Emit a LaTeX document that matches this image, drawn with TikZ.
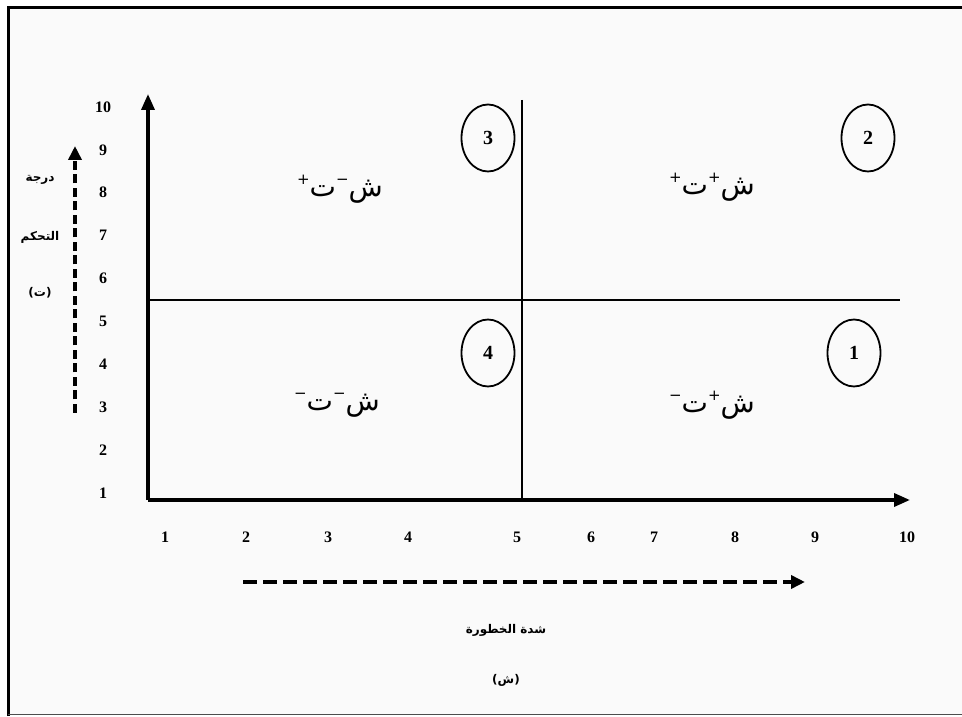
\documentclass[tikz,border=0pt]{standalone}
\usepackage{fontspec}
\usepackage{tikz}
\usetikzlibrary{arrows.meta,shapes.geometric}
\setmainfont{Liberation Serif}
\newfontfamily\arabicfont[Script=Arabic]{DejaVu Sans}
\TeXXeTstate=1
\newcommand\supmark[1]{\raisebox{0.8ex}{\fontsize{15}{15}\selectfont #1}}

\tikzset{
  axis/.style={line width=3.5pt,-{Triangle[length=16pt,width=13pt]}},
  guide/.style={line width=4pt,dash pattern=on 14pt off 6pt,-{Triangle[length=14pt,width=13pt]}},
  zone/.style={ellipse,draw,line width=1.8pt,minimum width=53pt,minimum height=67pt,
    inner sep=0pt,font=\fontsize{20}{20}\selectfont\bfseries},
  tick/.style={font=\fontsize{16}{16}\selectfont\bfseries},
  title/.style={font=\fontsize{12}{14}\selectfont\bfseries\arabicfont},
  quad/.style={font=\fontsize{28}{28}\selectfont\arabicfont}
}

\begin{document}
\begin{tikzpicture}[x=1pt,y=1pt]
      \useasboundingbox (0,0) rectangle (962,716);
      \fill[black!2] (8,2) rectangle (962,708);

      %Cadre
      \draw[line width=3pt] (8,0) -- (8,708) -- (962,708);
      \draw[black!70,line width=1pt] (8,1.5) -- (962,1.5);

      %Axes
      \coordinate (O) at (148,216);
      \coordinate (Ytop) at (148,622);
      \coordinate (Xend) at (910,216);
      \draw[axis] (O) -- (Ytop);
      \draw[axis] (O) -- (Xend);

      %Séparations
      \coordinate (Hg) at (150,416);
      \coordinate (Hd) at (900,416);
      \coordinate (Vh) at (522,616);
      \coordinate (Vb) at (522,216);
      \draw[line width=1.2pt] (Hg) -- (Hd);
      \draw[line width=1.2pt] (Vh) -- (Vb);

      %Graduations
      \foreach \k in {1,...,10}
        \node[tick] (yt\k) at (103,{223+42.9*(\k-1)}) {\k};
      \foreach \k/\x in {1/165,2/246,3/328,4/408,5/517,6/591,7/654,8/735,9/815,10/907}
        \node[tick] (xt\k) at (\x,179) {\k};

      %Flèches pointillées
      \coordinate (Gb) at (75,303);
      \coordinate (Gh) at (75,570);
      \draw[guide,dash pattern=on 9pt off 4.5pt] (Gb) -- (Gh);
      \coordinate (Gg) at (243,134);
      \coordinate (Gd) at (805,134);
      \draw[guide] (Gg) -- (Gd);

      %Titres des axes
      \node[title] (degre) at (40,536) {\beginR درجة\endR};
      \node[title] (controle) at (40,479) {\beginR التحكم\endR};
      \node[title] (t) at (40,423) {\beginR (ت)\endR};
      \node[title] (gravite) at (506,86) {\beginR شدة الخطورة\endR};
      \node[title] (s) at (506,36) {\beginR (ش)\endR};

      %Zones
      \node[zone] (z3) at (488,578) {3};
      \node[zone] (z2) at (868,578) {2};
      \node[zone] (z4) at (488,363) {4};
      \node[zone] (z1) at (854,363) {1};

      %Combinaisons
      \node[quad] (q3) at (340,527) {\beginR ش\supmark{−}ت\supmark{+}\endR};
      \node[quad] (q2) at (712,529) {\beginR ش\supmark{+}ت\supmark{+}\endR};
      \node[quad] (q4) at (337,311) {\beginR ش\supmark{−}ت\supmark{−}\endR};
      \node[quad] (q1) at (712,311) {\beginR ش\supmark{+}ت\supmark{−}\endR};
\end{tikzpicture}
\end{document}
